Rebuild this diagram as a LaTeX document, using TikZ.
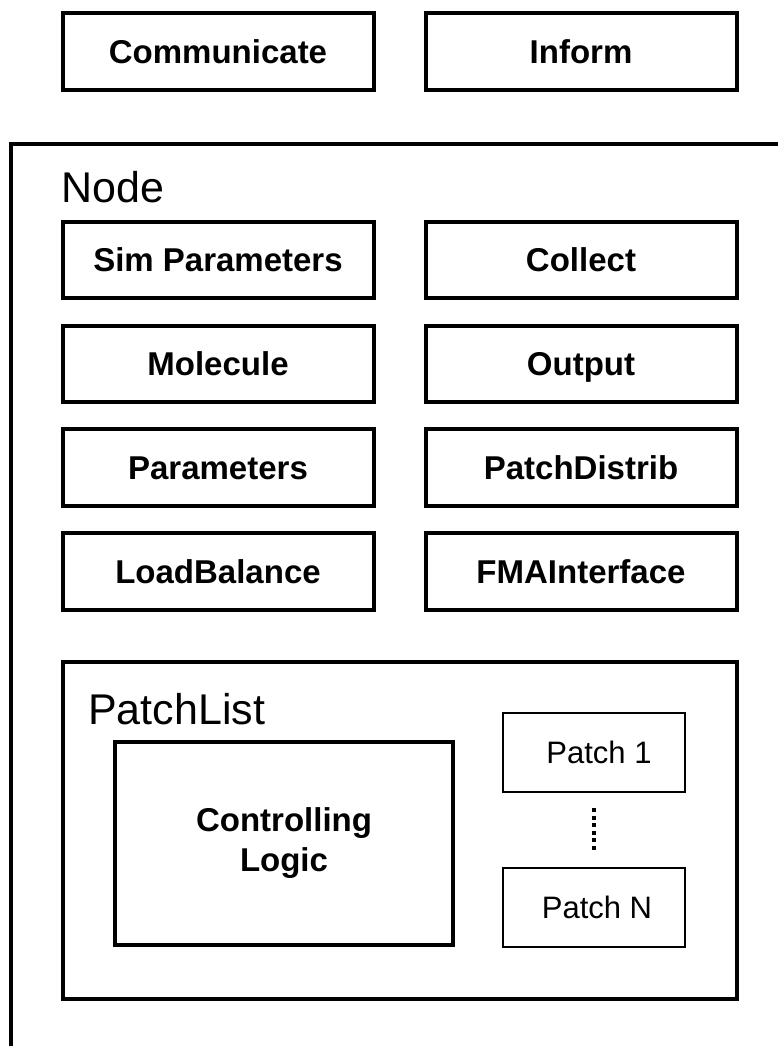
\documentclass[tikz,border=0pt]{standalone}
\usepackage{fontspec}
\setmainfont{Liberation Sans}
\usetikzlibrary{positioning}

\begin{document}
\begin{tikzpicture}[
  x=1pt, y=-1pt,
  node distance=27.3pt and 52pt,
  box/.style={draw, line width=4pt, inner sep=0pt, outer sep=0pt, minimum width=311pt, minimum height=76.5pt, align=center, font=\fontsize{33}{40}\selectfont\bfseries},
  cell/.style={box, text height=23.6pt, text depth=0pt},
  frame/.style={draw, line width=4pt, inner sep=0pt, outer sep=0pt, anchor=north west},
  patchbox/.style={draw, line width=1.5pt, inner sep=0pt, outer sep=0pt, minimum width=182pt, minimum height=79pt, text height=22.2pt, text depth=0pt, font=\fontsize{31}{37}\selectfont},
  title/.style={inner sep=0pt, anchor=base west, font=\fontsize{43}{50}\selectfont},
  dots/.style={line width=4pt, dash pattern=on 4pt off 3.5pt}
]
\useasboundingbox (0,0) rectangle (778,1046);
\clip (0,0) rectangle (778,1046);

\node[cell] (communicate) at (218,51.5) {Communicate};
\node[cell, right=of communicate] (inform) {Inform};

\node[frame, minimum width=800pt, minimum height=960pt] (nodebox) at (10.5,144) {};
\node[title] (nodelabel) at (61,202) {Node};

\node[cell] (simparams) at (218,260) {Sim Parameters};
\node[cell, right=of simparams] (collect) {Collect};
\node[cell, below=of simparams] (molecule) {Molecule};
\node[cell, right=of molecule] (output) {Output};
\node[cell, below=of molecule] (parameters) {Parameters};
\node[cell, right=of parameters] (patchdistrib) {PatchDistrib};
\node[cell, below=of parameters] (loadbalance) {LoadBalance};
\node[cell, right=of loadbalance] (fmainterface) {FMAInterface};

\node[frame, minimum width=674pt, minimum height=337pt] (patchlist) at (63,662) {};
\node[title] (patchlistlabel) at (88,724) {PatchList};

\node[box, minimum width=338pt, minimum height=203pt] (logic) at (284,843.5) {Controlling\\Logic};
\node[patchbox] (patch1) at (594,752.5) {\hspace{10pt}Patch 1};
\node[patchbox] (patchN) at (594,907.5) {\hspace{6pt}Patch N};

\draw[dots, shorten <=16pt, shorten >=18pt] (patch1) -- (patchN);

\end{tikzpicture}
\end{document}
